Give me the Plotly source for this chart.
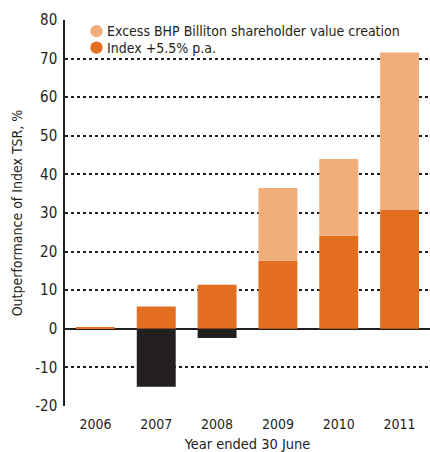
import plotly.graph_objects as go

years = ["2006", "2007", "2008", "2009", "2010", "2011"]
index_vals = [0.3, 5.8, 11.4, 17.6, 24.1, 30.8]
excess_vals = [0, 0, 0, 18.9, 19.9, 40.8]
negative_vals = [0, -15.0, -2.4, 0, 0, 0]
legend_names = ["Excess BHP Billiton shareholder value creation", "Index +5.5% p.a."]
y_tick_vals = [-20, -10, 0, 10, 20, 30, 40, 50, 60, 70, 80]
y_tick_text = ["-20", "-10", "0", "10", "20", "30", "40", "50", "60", "70", "80"]

DARK = "#E36E1F"
LIGHT = "#F1AE7D"
BLACK = "#231F20"
FONT = "DejaVu Sans Condensed, sans-serif"

fig = go.Figure()
fig.add_bar(x=years, y=index_vals, marker=dict(color=DARK, line=dict(width=0)), showlegend=False, width=0.64)
fig.add_bar(x=years, y=excess_vals, marker=dict(color=LIGHT, line=dict(width=0)), showlegend=False, width=0.64)
fig.add_bar(x=years, y=negative_vals, marker=dict(color=BLACK, line=dict(width=0)), showlegend=False, width=0.64)

# legend built from circles and text in paper coordinates
plot_l, plot_w, plot_t, plot_h = 65, 365, 19.5, 387.0
legend_colors = [LIGHT, DARK]
for i, (name, col) in enumerate(zip(legend_names, legend_colors)):
    cy_px = 30.7 + 16.5 * i
    cx_px = 96.5
    r = 6.2
    x0 = (cx_px - r - plot_l) / plot_w
    x1 = (cx_px + r - plot_l) / plot_w
    y0 = 1 - (cy_px + r - plot_t) / plot_h
    y1 = 1 - (cy_px - r - plot_t) / plot_h
    fig.add_shape(type="circle", xref="paper", yref="paper", x0=x0, x1=x1, y0=y0, y1=y1,
                  fillcolor=col, line=dict(width=0))
    fig.add_annotation(xref="paper", yref="paper", x=(105 - plot_l) / plot_w,
                       y=1 - (cy_px - plot_t) / plot_h, xanchor="left", yanchor="middle",
                       text=name, showarrow=False, font=dict(size=14, color=BLACK))

fig.update_layout(
    width=430, height=452,
    barmode="relative",
    plot_bgcolor="white", paper_bgcolor="white",
    margin=dict(l=65, r=0, t=19.5, b=45.5),
    font=dict(family=FONT, size=14, color=BLACK),
    showlegend=False,
)
fig.update_xaxes(type="category", showgrid=False, showline=False, ticks="", automargin=False,
                 title=dict(text="Year ended 30 June", font=dict(size=14.5), standoff=12),
                 tickfont=dict(size=14), range=[-0.5, 5.5], ticklabelstandoff=8)
fig.update_yaxes(range=[-20, 80], tickmode="array", tickvals=y_tick_vals, ticktext=y_tick_text,
                 showgrid=True, gridcolor=BLACK,
                 griddash="dot", gridwidth=1.5, zeroline=True, zerolinecolor=BLACK,
                 zerolinewidth=1.5, showline=True, linecolor=BLACK, linewidth=1.5,
                 ticks="", tickfont=dict(size=15), automargin=False, ticklabelstandoff=3,
                 title=dict(text="Outperformance of Index TSR, %", font=dict(size=14), standoff=9))

fig.write_html("out.html", config={"displayModeBar": False},
               post_script="document.body.style.margin='0';document.body.style.overflow='hidden';")
